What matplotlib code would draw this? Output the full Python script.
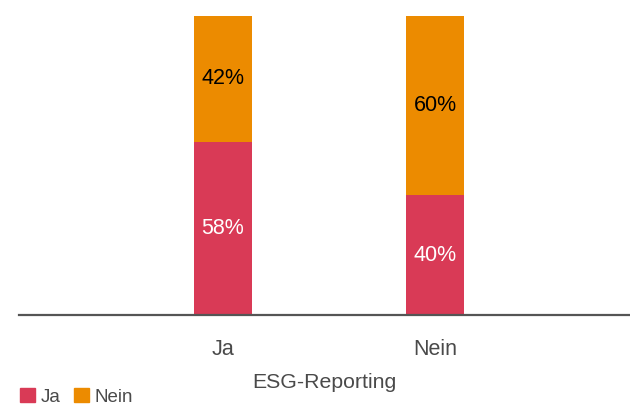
import matplotlib
matplotlib.use("Agg")
import matplotlib.pyplot as plt
from matplotlib.patches import Patch

plt.rcParams['font.family'] = ['Liberation Sans', 'DejaVu Sans']

categories = ["Ja", "Nein"]
ja_values = [58, 40]
nein_values = [42, 60]
series_names = ["Ja", "Nein"]
axis_title = "ESG-Reporting"

RED = "#D93A56"
ORANGE = "#EC8B00"
TEXT = "#4a4a4a"

W, H = 630, 405
fig = plt.figure(figsize=(W / 100, H / 100), dpi=100)
ax = fig.add_axes([19 / W, (H - 315) / H, (W - 19) / W, (315 - 16) / H])

x = list(range(len(categories)))
width = 0.274
ax.bar(x, ja_values, width, color=RED, zorder=2)
ax.bar(x, nein_values, width, bottom=ja_values, color=ORANGE, zorder=2)

for xi, v in zip(x, ja_values):
    ax.text(xi, v / 2, f"{v}%", ha="center", va="center", color="white", fontsize=15.5)
for xi, b, v in zip(x, ja_values, nein_values):
    ax.text(xi, b + v / 2, f"{v}%", ha="center", va="center", color="black", fontsize=15.5)

ax.set_xlim(-0.962, 1.920)
ax.set_ylim(0, 100)
for s in ["top", "right", "left"]:
    ax.spines[s].set_visible(False)
ax.spines["bottom"].set_color("#555555")
ax.spines["bottom"].set_linewidth(1.6)
ax.spines["bottom"].set_zorder(3)
ax.set_yticks([])
ax.set_xticks(x)
ax.set_xticklabels(categories, fontsize=15.5, color=TEXT)
ax.tick_params(axis="x", length=0, pad=17)
ax.set_xlabel(axis_title, fontsize=15.3, color=TEXT, labelpad=10)

handles = [Patch(color=RED, label=series_names[0]), Patch(color=ORANGE, label=series_names[1])]
fig.legend(handles=handles, loc="lower left", bbox_to_anchor=(0.017, -0.025), ncol=2,
           frameon=False, fontsize=13.5, handlelength=0.8, handleheight=0.8,
           handletextpad=0.3, columnspacing=0.7, borderaxespad=0.2,
           borderpad=0.3, labelcolor=TEXT)

fig.savefig("out.png", dpi=100)
